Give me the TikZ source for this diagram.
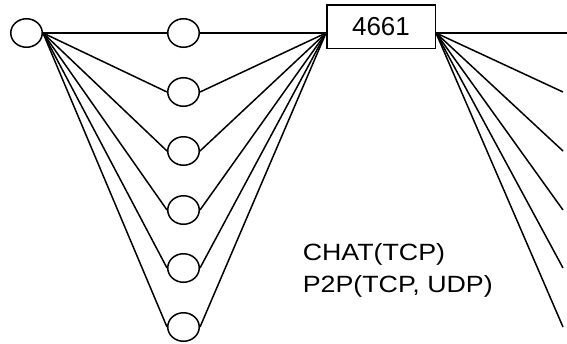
\documentclass[tikz,border=0pt]{standalone}
\usepackage{fontspec}
\setmainfont{Liberation Sans}
\usepackage{tikz}
\usetikzlibrary{shapes.geometric}
\tikzstyle{host}=[ellipse, draw, minimum width=31.5pt, minimum height=28.5pt, inner sep=0pt]
\tikzstyle{portbox}=[rectangle, draw, minimum width=108.5pt, minimum height=43.5pt, inner sep=0pt]

\begin{document}
\begin{tikzpicture}[x=1pt, y=-1pt]
\tikzset{every node/.style={font=\fontsize{26pt}{28pt}\selectfont}}

%  all lines
\tikzset{every path/.style={line width=1.5pt}}

\useasboundingbox (0,0) rectangle (567,343);

% client on the left
\node[host] (src) at (26.5,33) {};

% middle hosts
\foreach \i/\y in {1/33, 2/92, 3/151, 4/210, 5/268, 6/327}{
    \node[host] (h\i) at (183.5,\y) {};
}

% port box
\node[portbox] (port) at (381,26.5) {4661};
\coordinate (pw) at (326,33);
\coordinate (pe) at (436,33);

% loose ends on the right
\coordinate (r1) at (567,33);
\foreach \i/\y in {2/92, 3/151, 4/210, 5/268, 6/327}{
    \coordinate (r\i) at (563,\y);
}

\foreach \i in {1,...,6}{
    \draw (src.east) -- (h\i.west);
    \draw (h\i.east) -- (pw);
    \draw (pe) -- (r\i);
}

% protocols
\node[anchor=base west, inner sep=0pt, font=\fontsize{23.5pt}{25pt}\selectfont] (chat) at (302,260) {\scalebox{1.14}[1]{CHAT(TCP)}};
\node[anchor=base west, inner sep=0pt, font=\fontsize{23.5pt}{25pt}\selectfont] (ptp) at (302,292) {\scalebox{1.14}[1]{P2P(TCP, UDP)}};

\end{tikzpicture}
\end{document}
